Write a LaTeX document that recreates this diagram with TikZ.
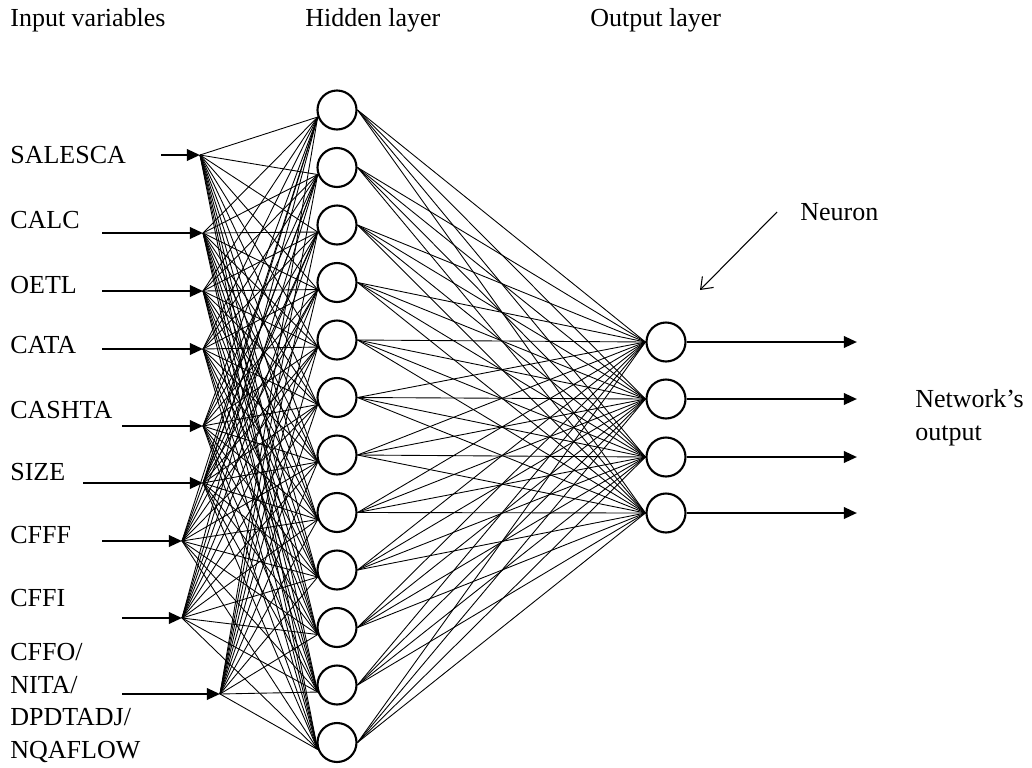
\documentclass[tikz,border=0pt]{standalone}
\usepackage{fontspec}
\setmainfont{Liberation Serif}
\usetikzlibrary{arrows.meta,positioning}

\begin{document}
\begin{tikzpicture}[x=0.02cm, y=-0.02cm,
    neuron/.style={draw, circle, line width=1.2pt, minimum size=0.78cm, inner sep=0pt},
    lbl/.style={anchor=west, align=left, inner sep=0pt, font=\fontsize{14.8}{18.7}\selectfont},
    feed/.style={-{Triangle[length=7.5pt,width=6.5pt]}, line width=1.4pt},
    pointer/.style={-{Straight Barb[length=6pt,width=9pt]}, line width=0.6pt},
    link/.style={line width=0.5pt}]
  \useasboundingbox (0,0) rectangle (1032,768);

  % headings
  \node[lbl] (hin) at (10,20) {Input variables};
  \node[lbl] (hhid) at (305,20) {Hidden layer};
  \node[lbl] (hout) at (590,20) {Output layer};

  % input variables
  \node[lbl] (v1) at (10,155) {SALESCA};
  \node[lbl] (v2) at (10,220) {CALC};
  \node[lbl] (v3) at (10,285) {OETL};
  \node[lbl] (v4) at (10,345) {CATA};
  \node[lbl] (v5) at (10,410) {CASHTA};
  \node[lbl] (v6) at (10,472) {SIZE};
  \node[lbl] (v7) at (10,535) {CFFF};
  \node[lbl] (v8) at (10,598) {CFFI};
  \node[lbl] (v9) at (10,703) {CFFO/\\NITA/\\DPDTADJ/\\NQAFLOW};

  % neurons
  \foreach \i in {1,...,12}
    \node[neuron] (h\i) at (337,{110+(\i-1)*57.5}) {};
  \foreach \i/\y in {1/342,2/399,3/457,4/513}
    \node[neuron] (o\i) at (666,\y) {};

  % inputs to hidden layer
  \foreach \n/\sx/\tx/\ay in {1/161/200/155, 2/102/203/233, 3/102/203/291,
      4/102/203/349, 5/122/203/426, 6/83/203/483, 7/102/182/541,
      8/122/182/618, 9/122/220/694} {
    \coordinate (s\n) at (\sx,\ay);
    \coordinate (x\n) at (\tx,\ay);
    \draw[feed] (s\n) -- (x\n);
    \foreach \j in {1,...,12}
      \draw[link] (x\n) -- (h\j.200);
  }

  % hidden to output layer
  \foreach \i in {1,...,12}
    \foreach \j in {1,...,4}
      \draw[link] (h\i.east) -- (o\j.west);

  % network output
  \foreach \i/\y in {1/342,2/399,3/457,4/513} {
    \coordinate (r\i) at (857,\y);
    \draw[feed] (o\i.east) -- (r\i);
  }
  \node[lbl] (netout) at (915,418) {Network's\\output};

  \node[lbl] (nrn) at (800,212) {Neuron};
  \coordinate (nrntip) at (700,290);
  \draw[pointer] ([xshift=-0.46cm]nrn.west) -- (nrntip);
\end{tikzpicture}
\end{document}
